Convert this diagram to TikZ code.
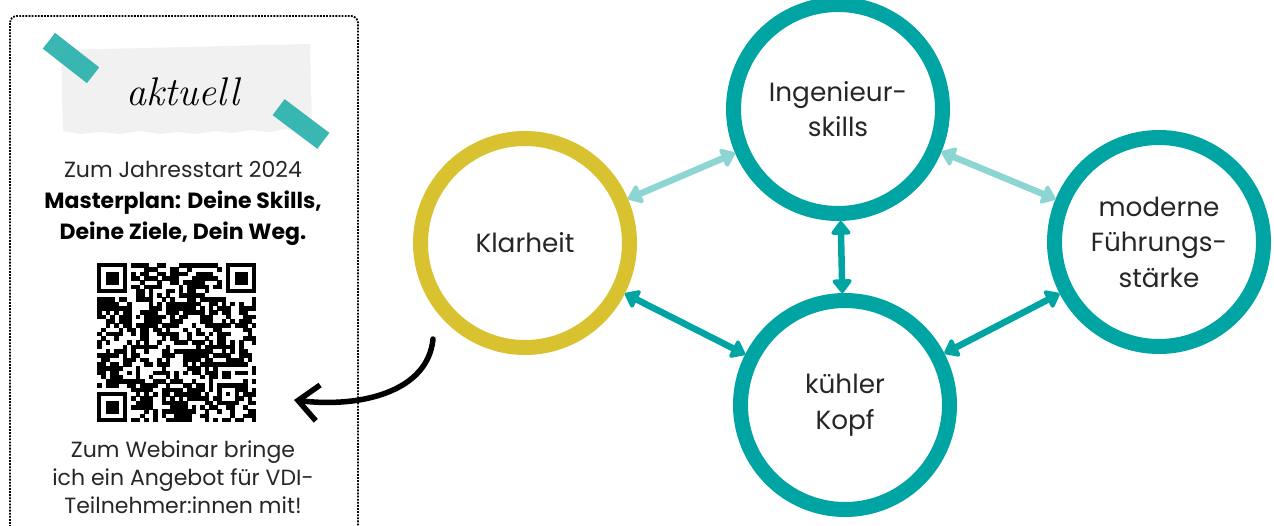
\documentclass[tikz,border=0pt]{standalone}
\usepackage{fontspec}
\setmainfont{Poppins}
\newfontfamily\scriptfam{Latin Modern Roman}
\usetikzlibrary{arrows.meta}
\definecolor{tealdark}{HTML}{00A5A3}
\definecolor{teallight}{HTML}{8DD5D3}
\definecolor{ringyellow}{HTML}{D9C22F}
\definecolor{tape}{HTML}{2FB3AE}
\definecolor{paper}{HTML}{F1F1F1}
\newcommand\scriptfnt{\scriptfam\itshape\fontsize{40}{40}\selectfont}
\tikzset{
  ring/.style={circle, draw=tealdark, line width=15pt, minimum size=209pt, inner sep=0pt,
    align=center, font=\fontsize{26.3}{35.5}\selectfont, text=black!85},
  biarrow/.style={line width=6.5pt,
    {Triangle[length=15pt,width=22pt,round]}-{Triangle[length=15pt,width=22pt,round]}},
  darkarrow/.style={biarrow, draw=tealdark, fill=tealdark},
  lightarrow/.style={biarrow, draw=teallight, fill=teallight},
  panel/.style={align=center, anchor=base, font=\fontsize{22}{30}\selectfont, text=black!85},
  panelbold/.style={panel, font=\fontsize{22}{30}\bfseries\selectfont, text=black},
  tapestrip/.style={fill=tape, opacity=0.95},
}
\begin{document}
\begin{tikzpicture}[x=1pt,y=-1pt]
\useasboundingbox (0,0) rectangle (1274,525);
% dotted panel
\draw[line width=1.8pt, dash pattern=on 1.8pt off 1.3pt, rounded corners=7pt] (10,16) rectangle (358,545);
% paper note
\fill[paper] (61,50) -- (310,44) -- (312,128) -- (296,131) -- (285,129) -- (270,132) -- (250,130) -- (232,133) -- (215,131) -- (195,134) -- (178,132) -- (160,134) -- (140,131) -- (120,134) -- (100,132) -- (80,134) -- (63,131) -- cycle;
\node[font=\scriptfnt, text=black] (aktuell) at (183,92) {aktuell};
% tapes
\fill[tapestrip, rotate around={-38:(71,58)}] (43,48) rectangle (99,68);
\fill[tapestrip, rotate around={-37:(301,124)}] (273,114) rectangle (329,134);
% panel texts
\node[panel] (t1) at (183,177) {Zum Jahresstart 2024};
\node[panelbold] (t2) at (183,208) {Masterplan: Deine Skills,};
\node[panelbold] (t3) at (183,239) {Deine Ziele, Dein Weg.};
\node[panel] (b1) at (183,457) {Zum Webinar bringe};
\node[panel] (b2) at (183,485) {ich ein Angebot für VDI-};
\node[panel] (b3) at (183,513) {Teilnehmer:innen mit!};
% QR code (pseudo pattern)
\def\qx{97}\def\qy{263}\def\qm{4.3}
\pgfmathsetseed{20240}
\foreach \i in {0,...,36}{
  \foreach \j in {0,...,36}{
    \pgfmathtruncatemacro{\skipit}{((\i<8)&&(\j<8))||((\i>28)&&(\j<8))||((\i<8)&&(\j>28))||((\i>27)&&(\i<33)&&(\j>27)&&(\j<33))}
    \pgfmathsetmacro{\rv}{rnd}
    \ifnum\skipit=0
      \ifdim\rv pt<0.56pt
        \fill[black] ({\qx+\i*\qm},{\qy+\j*\qm}) rectangle ++(\qm+0.3,\qm+0.3);
      \fi
    \fi
  }
}
\foreach \a/\b in {0/0,30/0,0/30}{
  \fill[black] ({\qx+\a*\qm},{\qy+\b*\qm}) rectangle ++(7*\qm,7*\qm);
  \fill[white] ({\qx+(\a+1)*\qm},{\qy+(\b+1)*\qm}) rectangle ++(5*\qm,5*\qm);
  \fill[black] ({\qx+(\a+2)*\qm},{\qy+(\b+2)*\qm}) rectangle ++(3*\qm,3*\qm);
}
\fill[black] ({\qx+28*\qm},{\qy+28*\qm}) rectangle ++(5*\qm,5*\qm);
\fill[white] ({\qx+29*\qm},{\qy+29*\qm}) rectangle ++(3*\qm,3*\qm);
\fill[black] ({\qx+30*\qm},{\qy+30*\qm}) rectangle ++(\qm,\qm);
% circles
\node[ring, draw=ringyellow] (klar) at (525,243) {Klarheit};
\node[ring] (ing) at (838,109) {Ingenieur-\\skills};
\node[ring] (fuehr) at (1159,242) {moderne\\Führungs-\\stärke};
\node[ring] (kopf) at (845,405) {kühler\\Kopf};
% connectors
\draw[lightarrow] (klar) -- (ing);
\draw[lightarrow] (ing) -- (fuehr);
\draw[darkarrow] (ing) -- (kopf);
\draw[darkarrow] (klar) -- (kopf);
\draw[darkarrow] (fuehr) -- (kopf);
% hand-drawn arrow to QR
\coordinate (cstart) at (433,339);
\coordinate (ctip) at (294,400);
\draw[line width=5.5pt, line cap=round, line join=round,
  -{Straight Barb[length=20pt,width=36pt,line width=5.5pt]}]
  (cstart) .. controls (428,392) and (360,408) .. (ctip);
\end{tikzpicture}
\end{document}
